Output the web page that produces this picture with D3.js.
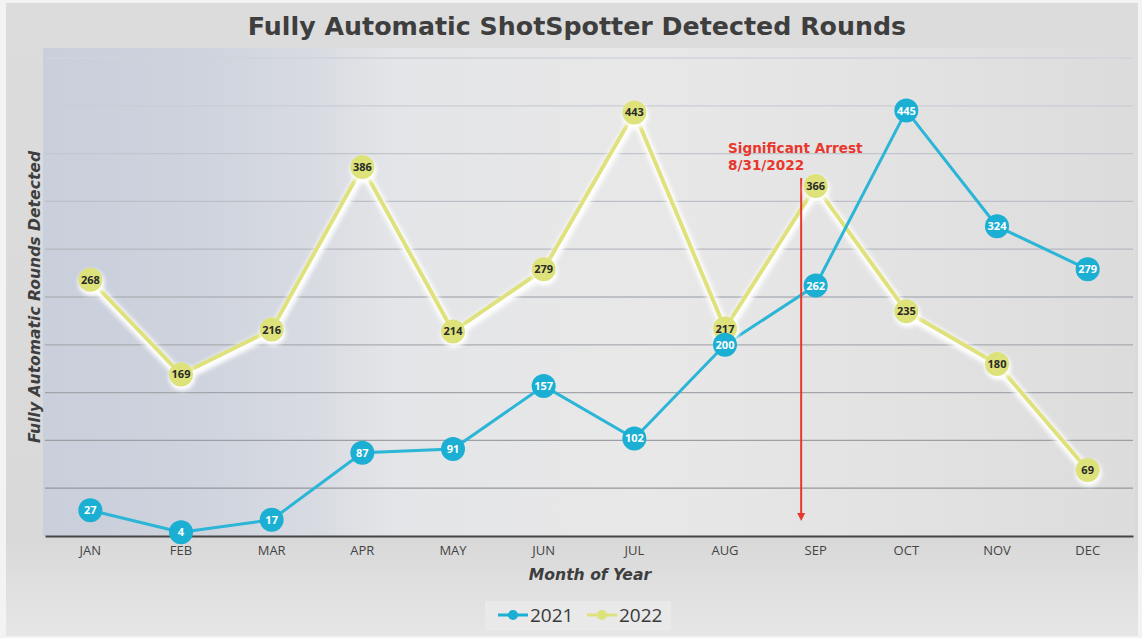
<!DOCTYPE html>
<html><head><meta charset="utf-8">
<script src="https://cdn.jsdelivr.net/npm/d3@7/dist/d3.min.js"></script>
<style>html,body{margin:0;padding:0;background:#f3f3f3;}svg{display:block;font-family:"Open Sans","DejaVu Sans",sans-serif;}</style>
</head><body><svg id="c" width="1142" height="638"></svg>
<script>
const months = ["JAN","FEB","MAR","APR","MAY","JUN","JUL","AUG","SEP","OCT","NOV","DEC"];
const series2021 = [27,4,17,87,91,157,102,200,262,445,324,279];
const series2022 = [268,169,216,386,214,279,443,217,366,235,180,69];
const yTicks = [0,50,100,150,200,250,300,350,400,450,500];
const seriesNames = ["2021","2022"];
const arrestLabel = ["Significant Arrest","8/31/2022"];
const arrestMonthFraction = 7.84; // between AUG and SEP

const W=1142,H=638;
const svg=d3.select("#c");
const m={l:45,r:1133,t:58,b:536};
const defs=svg.append("defs");
const DJ="'DejaVu Sans',Verdana,sans-serif";

const fg=defs.append("linearGradient").attr("id","frame").attr("x1",0).attr("y1",0).attr("x2",0).attr("y2",1);
fg.append("stop").attr("offset",0).attr("stop-color","#dcdcdc");
fg.append("stop").attr("offset",0.85).attr("stop-color","#d9d9d9");
fg.append("stop").attr("offset",1).attr("stop-color","#e6e6e6");
svg.append("rect").attr("x",6).attr("y",3).attr("width",1132).attr("height",633).attr("fill","url(#frame)");

const pg=defs.append("linearGradient").attr("id","plotbg").attr("x1",0).attr("y1",0).attr("x2",1).attr("y2",0);
[[0,"#c9cfdb"],[0.14,"#ced3dd"],[0.25,"#d8dbe2"],[0.32,"#e4e5e8"],[0.55,"#e8e8e8"],[0.8,"#e2e2e2"],[1,"#dcdcdc"]].forEach(s=>pg.append("stop").attr("offset",s[0]).attr("stop-color",s[1]));
svg.append("rect").attr("x",m.l-2).attr("y",48).attr("width",m.r-m.l+4).attr("height",m.b-48).attr("fill","url(#plotbg)");

const f=defs.append("filter").attr("id","glow").attr("x","-20%").attr("y","-20%").attr("width","140%").attr("height","140%");
f.append("feGaussianBlur").attr("stdDeviation",2.2);

const x=d3.scaleBand().domain(months).range([m.l,m.r]);
const cx=d=>x(d)+x.bandwidth()/2;
const y=d3.scaleLinear().domain([0,500]).range([m.b,m.t]);

const gc=d3.scaleLinear().domain([500,0]).range(["#cfd3da","#8f9296"]);
svg.append("g").selectAll("line").data(yTicks.filter(t=>t>0)).join("line")
 .attr("x1",m.l).attr("x2",m.r).attr("y1",d=>y(d)).attr("y2",d=>y(d))
 .attr("stroke",d=>gc(d)).attr("stroke-width",1.3);

const xa=svg.append("g").attr("transform",`translate(0,${m.b})`).call(d3.axisBottom(x).tickSize(0).tickPadding(10));
xa.select(".domain").attr("stroke","#444").attr("stroke-width",2);
xa.selectAll("text").attr("font-size",13).attr("fill","#444").attr("font-family","'Open Sans',sans-serif");

svg.append("text").attr("x",577).attr("y",35).attr("text-anchor","middle").attr("font-family",DJ).attr("font-size",25.3).attr("font-weight","bold").attr("fill","#3e3e3e").text("Fully Automatic ShotSpotter Detected Rounds");
svg.append("text").attr("transform","translate(40,297) rotate(-90)").attr("text-anchor","middle").attr("font-family",DJ).attr("font-size",15.6).attr("font-weight","bold").attr("font-style","italic").attr("fill","#3e3e3e").text("Fully Automatic Rounds Detected");
svg.append("text").attr("x",590).attr("y",580).attr("text-anchor","middle").attr("font-family",DJ).attr("font-size",15.6).attr("font-weight","bold").attr("font-style","italic").attr("fill","#3e3e3e").text("Month of Year");

const line=d3.line().x((d,i)=>cx(months[i])).y(d=>y(d));

svg.append("path").datum(series2022).attr("d",line).attr("fill","none").attr("stroke","#ffffff").attr("stroke-width",9).attr("filter","url(#glow)").attr("transform","translate(1,3)");
svg.append("path").datum(series2022).attr("d",line).attr("fill","none").attr("stroke","#dfe27c").attr("stroke-width",4).attr("stroke-linejoin","round");

svg.append("path").datum(series2021).attr("d",line).attr("fill","none").attr("stroke","#2bb5d6").attr("stroke-width",3).attr("stroke-linejoin","round");

const ax=cx("AUG")+(arrestMonthFraction-7)*x.step();
svg.append("line").attr("x1",ax).attr("x2",ax).attr("y1",178).attr("y2",515).attr("stroke","#e8372c").attr("stroke-width",2);
svg.append("path").attr("d",`M${ax-4},${513} L${ax+4},${513} L${ax},${521} Z`).attr("fill","#e8372c");
svg.append("g").selectAll("text").data(arrestLabel).join("text").attr("x",728).attr("y",(d,i)=>153+i*17).attr("font-family",DJ).attr("font-size",13.6).attr("font-weight","bold").attr("fill","#e8372c").text(d=>d);

const g22=svg.append("g");
g22.selectAll("circle.s").data(series2022).join("circle").attr("cx",(d,i)=>cx(months[i])+1).attr("cy",d=>y(d)+3).attr("r",13).attr("fill","#fff").attr("filter","url(#glow)");
g22.selectAll("circle.m").data(series2022).join("circle").attr("cx",(d,i)=>cx(months[i])).attr("cy",d=>y(d)).attr("r",12).attr("fill","#dde27a");
g22.selectAll("text").data(series2022).join("text").attr("x",(d,i)=>cx(months[i])).attr("y",d=>y(d)+4).attr("text-anchor","middle").attr("font-size",11).attr("font-weight","bold").attr("fill","#2a2a2a").text(d=>d);

const g21=svg.append("g");
g21.selectAll("circle").data(series2021).join("circle").attr("cx",(d,i)=>cx(months[i])).attr("cy",d=>y(d)).attr("r",12).attr("fill","#1aafd3");
g21.selectAll("text").data(series2021).join("text").attr("x",(d,i)=>cx(months[i])).attr("y",d=>y(d)+4).attr("text-anchor","middle").attr("font-size",11).attr("font-weight","bold").attr("fill","#ffffff").text(d=>d);

const lg=svg.append("g");
lg.append("rect").attr("x",485).attr("y",601).attr("width",186).attr("height",30).attr("fill","#e9e9e9");
const lc=["#1aafd3","#dde27a"];
seriesNames.forEach((n,i)=>{
  const ox=498+i*89;
  lg.append("line").attr("x1",ox).attr("x2",ox+30).attr("y1",615).attr("y2",615).attr("stroke",lc[i]).attr("stroke-width",3);
  lg.append("circle").attr("cx",ox+15).attr("cy",615).attr("r",5).attr("fill",lc[i]);
  lg.append("text").attr("x",ox+32).attr("y",622).attr("font-size",19).attr("fill","#3a3a3a").text(n);
});
</script></body></html>
